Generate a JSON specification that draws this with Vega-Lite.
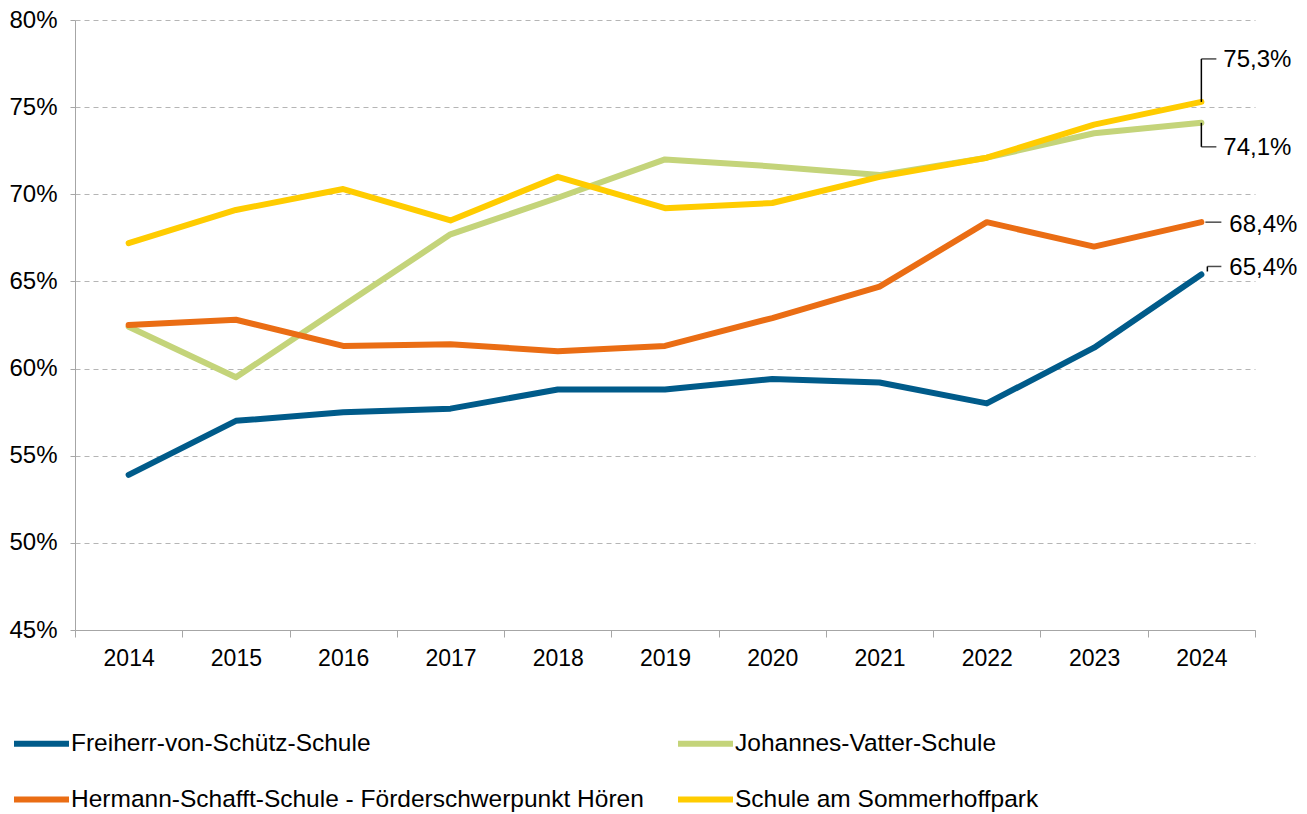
{
  "$schema": "https://vega.github.io/schema/vega-lite/v6.json",
  "width": 1180,
  "height": 610,
  "autosize": {"type": "none"},
  "padding": {"left": 75, "top": 20, "right": 52, "bottom": 184},
  "background": "white",
  "config": {
    "font": "Liberation Sans",
    "view": {"stroke": null},
    "locale": {"number": {"decimal": ",", "thousands": ".", "grouping": [3], "currency": ["", " €"]}}
  },
  "data": {
    "values": [
      {"Jahr": "2014", "Schule": "Freiherr-von-Schütz-Schule", "Wert": 0.539},
      {"Jahr": "2015", "Schule": "Freiherr-von-Schütz-Schule", "Wert": 0.570},
      {"Jahr": "2016", "Schule": "Freiherr-von-Schütz-Schule", "Wert": 0.575},
      {"Jahr": "2017", "Schule": "Freiherr-von-Schütz-Schule", "Wert": 0.577},
      {"Jahr": "2018", "Schule": "Freiherr-von-Schütz-Schule", "Wert": 0.588},
      {"Jahr": "2019", "Schule": "Freiherr-von-Schütz-Schule", "Wert": 0.588},
      {"Jahr": "2020", "Schule": "Freiherr-von-Schütz-Schule", "Wert": 0.594},
      {"Jahr": "2021", "Schule": "Freiherr-von-Schütz-Schule", "Wert": 0.592},
      {"Jahr": "2022", "Schule": "Freiherr-von-Schütz-Schule", "Wert": 0.580},
      {"Jahr": "2023", "Schule": "Freiherr-von-Schütz-Schule", "Wert": 0.612},
      {"Jahr": "2024", "Schule": "Freiherr-von-Schütz-Schule", "Wert": 0.654},
      {"Jahr": "2014", "Schule": "Johannes-Vatter-Schule", "Wert": 0.624},
      {"Jahr": "2015", "Schule": "Johannes-Vatter-Schule", "Wert": 0.595},
      {"Jahr": "2016", "Schule": "Johannes-Vatter-Schule", "Wert": 0.636},
      {"Jahr": "2017", "Schule": "Johannes-Vatter-Schule", "Wert": 0.677},
      {"Jahr": "2018", "Schule": "Johannes-Vatter-Schule", "Wert": 0.698},
      {"Jahr": "2019", "Schule": "Johannes-Vatter-Schule", "Wert": 0.720},
      {"Jahr": "2020", "Schule": "Johannes-Vatter-Schule", "Wert": 0.716},
      {"Jahr": "2021", "Schule": "Johannes-Vatter-Schule", "Wert": 0.711},
      {"Jahr": "2022", "Schule": "Johannes-Vatter-Schule", "Wert": 0.721},
      {"Jahr": "2023", "Schule": "Johannes-Vatter-Schule", "Wert": 0.735},
      {"Jahr": "2024", "Schule": "Johannes-Vatter-Schule", "Wert": 0.741},
      {"Jahr": "2014", "Schule": "Hermann-Schafft-Schule - Förderschwerpunkt Hören", "Wert": 0.625},
      {"Jahr": "2015", "Schule": "Hermann-Schafft-Schule - Förderschwerpunkt Hören", "Wert": 0.628},
      {"Jahr": "2016", "Schule": "Hermann-Schafft-Schule - Förderschwerpunkt Hören", "Wert": 0.613},
      {"Jahr": "2017", "Schule": "Hermann-Schafft-Schule - Förderschwerpunkt Hören", "Wert": 0.614},
      {"Jahr": "2018", "Schule": "Hermann-Schafft-Schule - Förderschwerpunkt Hören", "Wert": 0.610},
      {"Jahr": "2019", "Schule": "Hermann-Schafft-Schule - Förderschwerpunkt Hören", "Wert": 0.613},
      {"Jahr": "2020", "Schule": "Hermann-Schafft-Schule - Förderschwerpunkt Hören", "Wert": 0.629},
      {"Jahr": "2021", "Schule": "Hermann-Schafft-Schule - Förderschwerpunkt Hören", "Wert": 0.647},
      {"Jahr": "2022", "Schule": "Hermann-Schafft-Schule - Förderschwerpunkt Hören", "Wert": 0.684},
      {"Jahr": "2023", "Schule": "Hermann-Schafft-Schule - Förderschwerpunkt Hören", "Wert": 0.670},
      {"Jahr": "2024", "Schule": "Hermann-Schafft-Schule - Förderschwerpunkt Hören", "Wert": 0.684},
      {"Jahr": "2014", "Schule": "Schule am Sommerhoffpark", "Wert": 0.672},
      {"Jahr": "2015", "Schule": "Schule am Sommerhoffpark", "Wert": 0.691},
      {"Jahr": "2016", "Schule": "Schule am Sommerhoffpark", "Wert": 0.703},
      {"Jahr": "2017", "Schule": "Schule am Sommerhoffpark", "Wert": 0.685},
      {"Jahr": "2018", "Schule": "Schule am Sommerhoffpark", "Wert": 0.710},
      {"Jahr": "2019", "Schule": "Schule am Sommerhoffpark", "Wert": 0.692},
      {"Jahr": "2020", "Schule": "Schule am Sommerhoffpark", "Wert": 0.695},
      {"Jahr": "2021", "Schule": "Schule am Sommerhoffpark", "Wert": 0.710},
      {"Jahr": "2022", "Schule": "Schule am Sommerhoffpark", "Wert": 0.721},
      {"Jahr": "2023", "Schule": "Schule am Sommerhoffpark", "Wert": 0.740},
      {"Jahr": "2024", "Schule": "Schule am Sommerhoffpark", "Wert": 0.753}
    ]
  },
  "encoding": {
    "x": {
      "field": "Jahr", "type": "ordinal", "bandPosition": 0.5,
      "scale": {"type": "band", "paddingInner": 0, "paddingOuter": 0},
      "axis": {
        "title": null, "labelAngle": 0, "labelFontSize": 23, "labelColor": "#000000",
        "labelPadding": 10, "tickBand": "extent", "tickSize": 7, "tickColor": "#a6a6a6",
        "domainColor": "#a6a6a6", "grid": false
      }
    },
    "y": {
      "field": "Wert", "type": "quantitative",
      "scale": {"domain": [0.45, 0.8], "nice": false, "zero": false},
      "axis": {
        "title": null, "values": [0.45, 0.5, 0.55, 0.6, 0.65, 0.7, 0.75, 0.8], "format": ".0%",
        "labelFontSize": 24, "labelColor": "#000000", "labelPadding": 13, "tickSize": 5,
        "tickColor": "#a6a6a6", "domainColor": "#a6a6a6",
        "grid": true, "gridColor": "#b5b5b5", "gridDash": [5, 4], "gridWidth": 1
      }
    }
  },
  "layer": [
    {
      "mark": {"type": "line", "strokeWidth": 6, "strokeCap": "round", "strokeJoin": "round"},
      "encoding": {
        "color": {
          "field": "Schule", "type": "nominal",
          "scale": {
            "domain": ["Freiherr-von-Schütz-Schule", "Hermann-Schafft-Schule - Förderschwerpunkt Hören", "Johannes-Vatter-Schule", "Schule am Sommerhoffpark"],
            "range": ["#005b8a", "#ea6d14", "#c4d47a", "#ffcc00"]
          },
          "legend": {
            "title": null, "orient": "none", "legendX": -64, "legendY": 693, "direction": "vertical", "columns": 2,
            "symbolType": "stroke", "symbolSize": 3025, "symbolStrokeWidth": 6,
            "labelFontSize": 24.5, "labelColor": "#000000", "labelOffset": -1, "labelLimit": 700,
            "columnPadding": 22, "rowPadding": 13
          }
        },
        "order": {"field": "Jahr"}
      }
    },
    {
      "transform": [{"filter": "datum.Jahr == '2024' && datum.Schule == 'Schule am Sommerhoffpark'"}],
      "layer": [
        {"mark": {"type": "rule", "color": "#000000", "strokeWidth": 1.5, "y2Offset": -43}, "encoding": {"y2": {"field": "Wert"}}},
        {"mark": {"type": "tick", "orient": "horizontal", "color": "#000000", "thickness": 1.5, "size": 15, "xOffset": 7.5, "yOffset": -43}, "encoding": {}},
        {"mark": {"type": "text", "align": "left", "baseline": "middle", "fontSize": 24, "dx": 22, "dy": -42, "color": "#000000"}, "encoding": {"text": {"field": "Wert", "format": ".1%"}}}
      ]
    },
    {
      "transform": [{"filter": "datum.Jahr == '2024' && datum.Schule == 'Johannes-Vatter-Schule'"}],
      "layer": [
        {"mark": {"type": "rule", "color": "#000000", "strokeWidth": 1.5, "y2Offset": 24}, "encoding": {"y2": {"field": "Wert"}}},
        {"mark": {"type": "tick", "orient": "horizontal", "color": "#000000", "thickness": 1.5, "size": 15, "xOffset": 7.5, "yOffset": 24}, "encoding": {}},
        {"mark": {"type": "text", "align": "left", "baseline": "middle", "fontSize": 24, "dx": 22, "dy": 25, "color": "#000000"}, "encoding": {"text": {"field": "Wert", "format": ".1%"}}}
      ]
    },
    {
      "transform": [{"filter": "datum.Jahr == '2024' && datum.Schule == 'Hermann-Schafft-Schule - Förderschwerpunkt Hören'"}],
      "layer": [
        {"mark": {"type": "tick", "orient": "horizontal", "color": "#000000", "thickness": 1.5, "size": 16, "xOffset": 12, "yOffset": 0}, "encoding": {}},
        {"mark": {"type": "text", "align": "left", "baseline": "middle", "fontSize": 24, "dx": 28, "dy": 3, "color": "#000000"}, "encoding": {"text": {"field": "Wert", "format": ".1%"}}}
      ]
    },
    {
      "transform": [{"filter": "datum.Jahr == '2024' && datum.Schule == 'Freiherr-von-Schütz-Schule'"}],
      "layer": [
        {"mark": {"type": "rule", "color": "#000000", "strokeWidth": 1.5, "xOffset": 6, "yOffset": -3, "y2Offset": -8}, "encoding": {"y2": {"field": "Wert"}}},
        {"mark": {"type": "tick", "orient": "horizontal", "color": "#000000", "thickness": 1.5, "size": 14, "xOffset": 13, "yOffset": -8}, "encoding": {}},
        {"mark": {"type": "text", "align": "left", "baseline": "middle", "fontSize": 24, "dx": 28, "dy": -6, "color": "#000000"}, "encoding": {"text": {"field": "Wert", "format": ".1%"}}}
      ]
    }
  ]
}
